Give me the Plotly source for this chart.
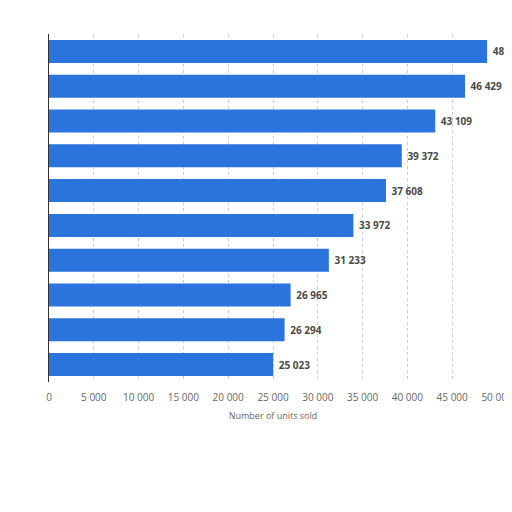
import plotly.graph_objects as go

categories = ["Item 1", "Item 2", "Item 3", "Item 4", "Item 5",
              "Item 6", "Item 7", "Item 8", "Item 9", "Item 10"]
units_sold = [48900, 46429, 43109, 39372, 37608, 33972, 31233, 26965, 26294, 25023]
x_ticks = [0, 5000, 10000, 15000, 20000, 25000, 30000, 35000, 40000, 45000, 50000]

fig = go.Figure(go.Bar(
    y=categories,
    x=units_sold,
    orientation="h",
    marker=dict(color="#2b74dd", line=dict(width=0)),
    texttemplate="\u00a0%{x:,}",
    textposition="outside",
    textfont=dict(family="Open Sans", size=10, color="#4a4a4a", weight="bold"),
    cliponaxis=False,
))

fig.update_layout(
    width=512, height=512,
    margin=dict(l=41, r=23, t=26, b=138, autoexpand=False),
    paper_bgcolor="white",
    plot_bgcolor="white",
    separators=", ",
    bargap=0.34,
    showlegend=False,
    font=dict(family="Open Sans", color="#666666"),
)
fig.update_yaxes(
    autorange="reversed",
    showticklabels=False,
    showgrid=False,
    showline=True,
    linecolor="#333333",
    linewidth=1,
    ticks="",
    automargin=False,
)
fig.update_xaxes(
    range=[0, 50000],
    tickvals=x_ticks,
    tickformat=",",
    tickfont=dict(size=10, color="#666666"),
    ticklabelstandoff=8,
    showgrid=True,
    gridcolor="#cccccc",
    griddash="dot",
    gridwidth=1,
    zeroline=False,
    showline=False,
    ticks="",
    automargin=False,
    title=dict(text="Number of units sold", font=dict(size=9, color="#666666"), standoff=9),
)

fig.write_html("out.html")
